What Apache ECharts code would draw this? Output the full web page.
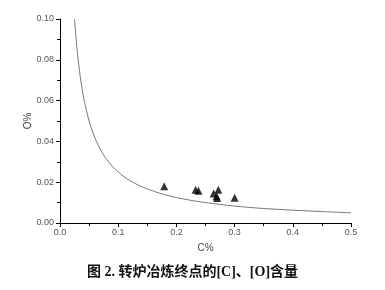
<!DOCTYPE html>
<html><head><meta charset="utf-8">
<script src="https://cdn.jsdelivr.net/npm/echarts@6/dist/echarts.min.js"></script>
<style>html,body{margin:0;padding:0;background:#fff}#c{width:385px;height:290px}</style>
</head><body><div id="c"></div>
<script>
var xTicks = [0.0, 0.1, 0.2, 0.3, 0.4, 0.5];
var yTicks = [0.00, 0.02, 0.04, 0.06, 0.08, 0.10];
var curveC = [0.025,0.0275,0.03,0.0325,0.035,0.0375,0.04,0.045,0.05,0.055,0.06,0.065,0.07,0.075,0.08,0.09,0.1,0.11,0.12,0.135,0.15,0.175,0.2,0.225,0.25,0.3,0.35,0.4,0.45,0.5];
var curveO = [0.1,0.091,0.083,0.077,0.0714,0.0667,0.0625,0.0556,0.05,0.0455,0.0417,0.0385,0.0357,0.0333,0.0313,0.0278,0.025,0.0227,0.0208,0.0185,0.0167,0.0143,0.0125,0.0111,0.01,0.0083,0.0071,0.0063,0.0056,0.005];
var pointC = [0.179,0.233,0.238,0.264,0.269,0.270,0.272,0.300];
var pointO = [0.018,0.0163,0.0158,0.0144,0.0131,0.0123,0.0163,0.0124];

var chart = echarts.init(document.getElementById('c'));
var lbl = {color:'#555', fontSize:9, fontFamily:'Liberation Sans, Arial'};
chart.setOption({
  animation:false,
  grid:{left:60,right:34,top:19,bottom:67},
  title:{text:'图 2. 转炉冶炼终点的[C]、[O]含量', left:'center', top:260,
    textStyle:{fontSize:14,fontWeight:'bold',color:'#111',fontFamily:'Liberation Serif, Noto Sans CJK SC'}},
  xAxis:{type:'value',min:0,max:0.5,interval:0.1,
    name:'C%',nameLocation:'middle',nameGap:20,nameMoveOverlap:false,nameTextStyle:{color:'#444',fontSize:10,fontFamily:'Liberation Sans, Arial'},
    axisLine:{lineStyle:{color:'#000',width:1}},
    axisTick:{inside:false,length:4,lineStyle:{color:'#000'}},
    minorTick:{show:true,splitNumber:2,length:3,lineStyle:{color:'#000'}},
    splitLine:{show:false},
    axisLabel:Object.assign({margin:5,formatter:function(v){return v.toFixed(1);}},lbl)},
  yAxis:{type:'value',min:0,max:0.1,interval:0.02,
    name:'O%',nameLocation:'middle',nameGap:27,nameRotate:90,nameMoveOverlap:false,nameTextStyle:{color:'#444',fontSize:10,fontFamily:'Liberation Sans, Arial'},
    axisLine:{show:true,lineStyle:{color:'#000',width:1}},
    axisTick:{show:true,inside:false,length:4,lineStyle:{color:'#000'}},
    minorTick:{show:true,splitNumber:2,length:3,lineStyle:{color:'#000'}},
    splitLine:{show:false},
    axisLabel:Object.assign({margin:6,formatter:function(v){return v.toFixed(2);}},lbl)},
  series:[
    {type:'line',smooth:0.3,showSymbol:false,symbol:'none',
     lineStyle:{color:'#777',width:1},
     data:curveC.map(function(c,i){return [c,curveO[i]];})},
    {type:'scatter',symbol:'triangle',symbolSize:8,itemStyle:{color:'#000'},
     data:pointC.map(function(c,i){return [c,pointO[i]];})}
  ]
});
</script></body></html>
